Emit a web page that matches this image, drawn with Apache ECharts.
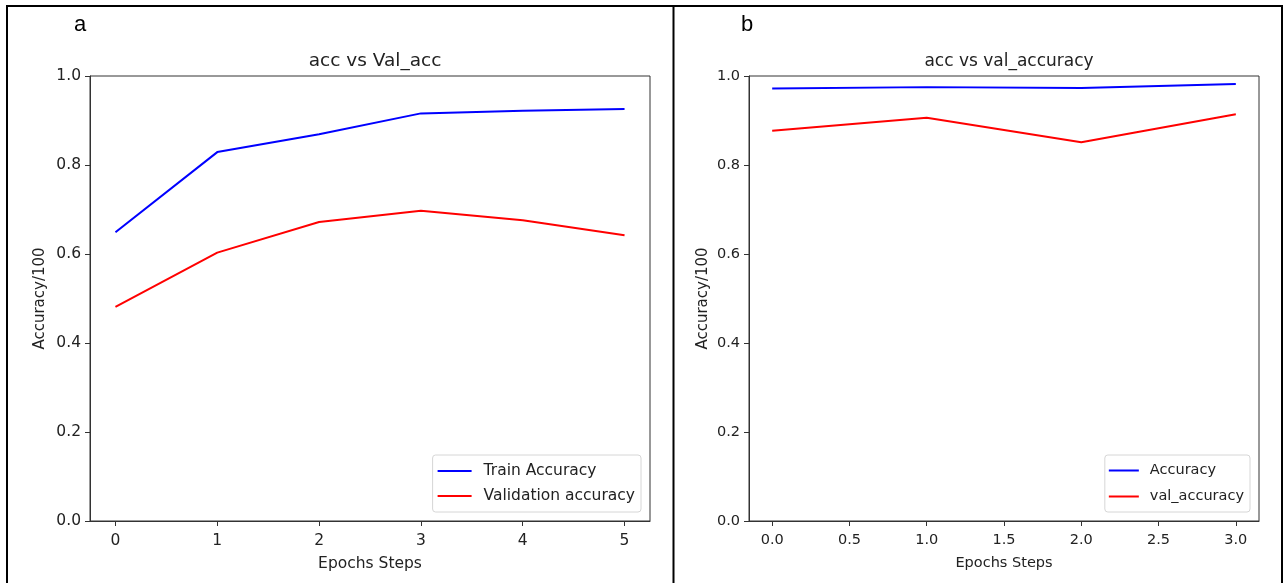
<!DOCTYPE html>
<html>
<head>
<meta charset="utf-8">
<script src="https://cdn.jsdelivr.net/npm/echarts@6/dist/echarts.min.js"></script>
<style>
  html, body { margin: 0; padding: 0; background: #fff; }
  #chart { width: 1283px; height: 583px; }
</style>
</head>
<body>
<div id="chart"></div>
<script>
// Panel a: training run over 6 epochs
const epochsA = [0, 1, 2, 3, 4, 5];
const trainAccuracy = [0.649, 0.829, 0.869, 0.916, 0.922, 0.926];
const validationAccuracy = [0.481, 0.603, 0.672, 0.697, 0.676, 0.642];
const xTicksA = [0, 1, 2, 3, 4, 5];

// Panel b: training run over 4 epochs
const epochsB = [0, 1, 2, 3];
const accuracyB = [0.972, 0.975, 0.973, 0.982];
const valAccuracyB = [0.877, 0.906, 0.851, 0.914];
const xTicksB = [0, 0.5, 1, 1.5, 2, 2.5, 3];

const FONT = 'DejaVu Sans';
const TXT = '#222';

function pairs(xs, ys) { return xs.map((x, i) => [x, ys[i]]); }

function xAxis(gridIndex, min, max, ticks, digits, fs, nameFs) {
  return {
    type: 'value', gridIndex, min, max,
    name: 'Epochs Steps', nameLocation: 'middle', nameGap: 35,
    nameTextStyle: { fontFamily: FONT, fontSize: nameFs, color: TXT },
    axisLine: { show: true, onZero: false, lineStyle: { color: '#333', width: 1 } },
    axisTick: { show: true, length: 5, customValues: ticks, lineStyle: { color: '#333' } },
    axisLabel: {
      show: true, customValues: ticks, margin: 12,
      fontFamily: FONT, fontSize: fs, color: TXT,
      formatter: v => Number(v).toFixed(digits)
    },
    splitLine: { show: false }
  };
}

function yAxis(gridIndex, nameGap, fs) {
  return {
    type: 'value', gridIndex, min: 0, max: 1, interval: 0.2,
    name: 'Accuracy/100', nameLocation: 'middle', nameGap,
    nameTextStyle: { fontFamily: FONT, fontSize: 15, color: TXT },
    axisLine: { show: true, onZero: false, lineStyle: { color: '#333', width: 1 } },
    axisTick: { show: true, length: 5, lineStyle: { color: '#333' } },
    axisLabel: {
      fontFamily: FONT, fontSize: fs, color: TXT, margin: 9,
      formatter: v => Number(v).toFixed(1)
    },
    splitLine: { show: false }
  };
}

function lineSeries(name, idx, data, color) {
  return {
    name, type: 'line', xAxisIndex: idx, yAxisIndex: idx, data,
    showSymbol: false, symbol: 'none', animation: false,
    lineStyle: { color, width: 2 }, itemStyle: { color }
  };
}

function legend(names, right, iconW, fs, textGap, padL, gap) {
  return {
    data: names, orient: 'vertical', right, bottom: 71,
    icon: 'rect', itemWidth: iconW, itemHeight: 2, itemGap: gap,
    padding: [8, 6, 8, padL],
    borderColor: '#d6d6d6', borderWidth: 1, borderRadius: 3,
    backgroundColor: '#fff',
    textStyle: { fontFamily: FONT, fontSize: fs, color: TXT, padding: [0, 0, 0, textGap] }
  };
}

const chart = echarts.init(document.getElementById('chart'), null, { renderer: 'canvas' });

chart.setOption({
  animation: false,
  backgroundColor: '#fff',
  title: [
    { text: 'acc vs Val_acc', left: 370, top: 47, textAlign: 'center',
      textStyle: { fontFamily: FONT, fontSize: 18.5, fontWeight: 'normal', color: TXT } },
    { text: 'acc vs val_accuracy', left: 1004, top: 48, textAlign: 'center',
      textStyle: { fontFamily: FONT, fontSize: 17, fontWeight: 'normal', color: TXT } }
  ],
  grid: [
    { left: 90, right: 633, top: 76, bottom: 62, show: true, borderColor: '#333', borderWidth: 1 },
    { left: 749, right: 24, top: 76, bottom: 62, show: true, borderColor: '#333', borderWidth: 1 }
  ],
  xAxis: [
    xAxis(0, -0.25, 5.25, xTicksA, 0, 15.5, 15.5),
    xAxis(1, -0.15, 3.15, xTicksB, 1, 14.5, 14.5)
  ],
  yAxis: [yAxis(0, 42, 15.5), yAxis(1, 38, 14.5)],
  legend: [
    legend(['Train Accuracy', 'Validation accuracy'], 642, 34, 15.5, 7, 5, 9),
    legend(['Accuracy', 'val_accuracy'], 33, 30, 14.5, 6, 4, 11)
  ],
  series: [
    lineSeries('Train Accuracy', 0, pairs(epochsA, trainAccuracy), '#0000ff'),
    lineSeries('Validation accuracy', 0, pairs(epochsA, validationAccuracy), '#ff0000'),
    lineSeries('Accuracy', 1, pairs(epochsB, accuracyB), '#0000ff'),
    lineSeries('val_accuracy', 1, pairs(epochsB, valAccuracyB), '#ff0000')
  ],
  graphic: [
    // outer frame and divider between the two panels
    { type: 'rect', shape: { x: 7, y: 6, width: 1275, height: 590 },
      style: { fill: 'none', stroke: '#000', lineWidth: 2 }, silent: true },
    { type: 'line', shape: { x1: 673.5, y1: 6, x2: 673.5, y2: 583 },
      style: { stroke: '#000', lineWidth: 2 }, silent: true },
    // panel letters
    { type: 'text', left: 74, top: 14,
      style: { text: 'a', font: '22px "Liberation Sans", Arial, sans-serif', fill: '#000' } },
    { type: 'text', left: 741, top: 14,
      style: { text: 'b', font: '22px "Liberation Sans", Arial, sans-serif', fill: '#000' } }
  ]
});
</script>
</body>
</html>
